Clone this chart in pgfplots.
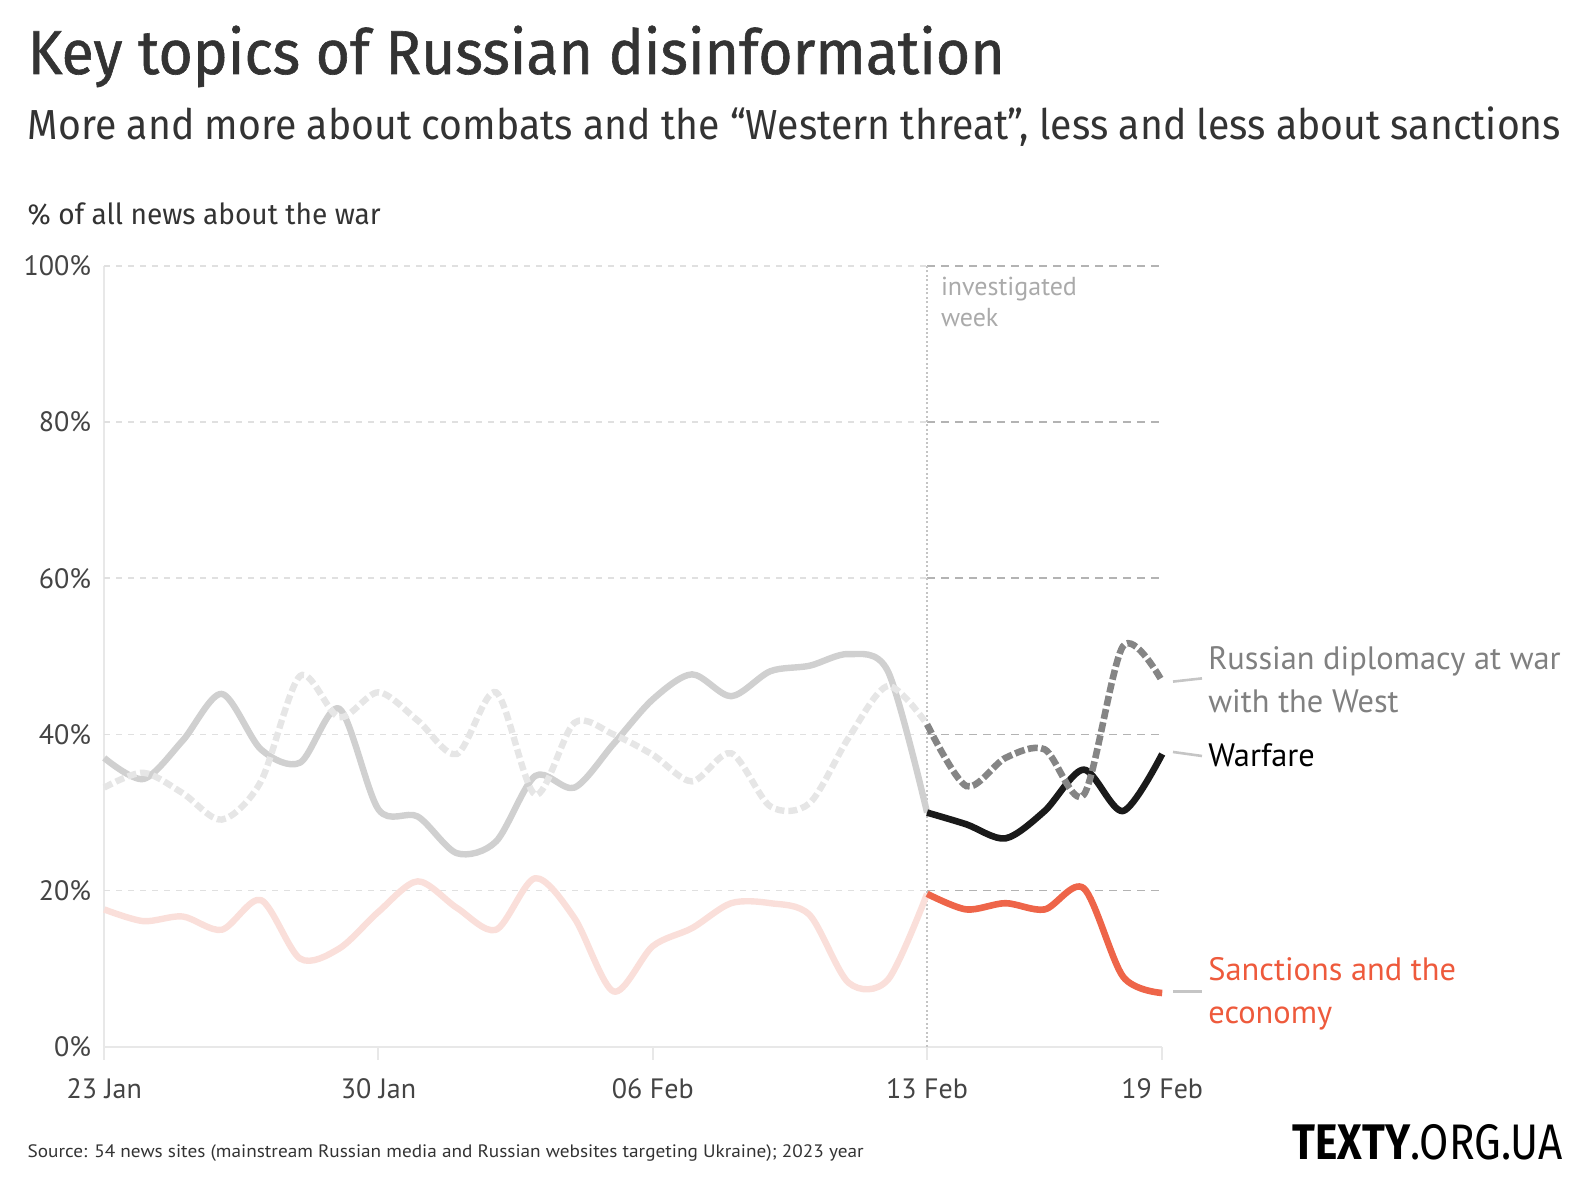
\documentclass[border=0pt]{standalone}
\usepackage{fontspec}
\setmainfont{PT Sans}
\newfontfamily\firafont{Fira Sans}
\newfontfamily\titlefont{Fira Sans}[FakeBold=1]
\usepackage{pgfplots}
\pgfplotsset{compat=1.18}
\usepackage{graphicx}
\definecolor{warlight}{HTML}{D0D0D0}
\definecolor{diplight}{HTML}{E6E6E6}
\definecolor{sanclight}{HTML}{FADFDA}
\definecolor{wardark}{HTML}{1A1A1A}
\definecolor{dipdark}{HTML}{858585}
\definecolor{sancdark}{HTML}{EE6549}
\definecolor{sanctext}{HTML}{EE5A3C}
\definecolor{diptext}{HTML}{808080}
\definecolor{gridlight}{HTML}{E0E0E0}
\definecolor{griddark}{HTML}{B3B3B3}
\definecolor{axisgray}{HTML}{E8E8E8}
\definecolor{c333}{HTML}{333333}
\definecolor{c444}{HTML}{444444}
\definecolor{invgray}{HTML}{AAAAAA}
\definecolor{conngray}{HTML}{C5C5C5}
\begin{document}
\begin{tikzpicture}
\path[use as bounding box] (0,0) rectangle (793pt,594pt);
% titles
\node[anchor=base west, inner sep=0, text=c333] at (13.65pt,557pt)
  {\resizebox{488.5pt}{\height}{\titlefont\fontsize{31}{31}\selectfont Key topics of Russian disinformation}};
\node[anchor=base west, inner sep=0, text=c333] at (13.65pt,524pt)
  {\resizebox{766.7pt}{\height}{\firafont\fontsize{21}{21}\selectfont More and more about combats and the “Western threat”, less and less about sanctions}};
\node[anchor=base west, inner sep=0, text=c333] at (13.65pt,481.5pt)
  {\resizebox{176.5pt}{\height}{\firafont\fontsize{14.5}{14.5}\selectfont \% of all news about the war}};
\begin{axis}[
  at={(52.1pt,70.55pt)}, anchor=south west, scale only axis,
  width=529pt, height=390.5pt,
  xmin=0, xmax=27, ymin=0, ymax=100,
  axis x line*=bottom, axis y line*=left,
  axis line style={-, draw=axisgray, line width=1pt},
  every outer x axis line/.append style={-},
  every outer y axis line/.append style={-},
  xtick={0,7,14,21,27}, xticklabels={23 Jan,30 Jan,06 Feb,13 Feb,19 Feb},
  ytick={0,20,40,60,80,100}, yticklabels={0\%,20\%,40\%,60\%,80\%,100\%},
  tick align=outside, major tick length=6.5pt,
  x tick style={draw=axisgray, line width=1pt},
  y tick style={draw=none},
  ticklabel style={font=\fontsize{14}{16}\selectfont, text=c444},
  xticklabel style={yshift=-6pt},
  yticklabel style={xshift=3.5pt},
  clip=false, no markers,
]
% grid
\draw[gridlight, line width=0.8pt, dash pattern=on 3pt off 3pt] (axis cs:0,20) -- (axis cs:21,20);
\draw[gridlight, line width=0.8pt, dash pattern=on 3pt off 3pt] (axis cs:0,40) -- (axis cs:21,40);
\draw[gridlight, line width=0.8pt, dash pattern=on 3pt off 3pt] (axis cs:0,60) -- (axis cs:21,60);
\draw[gridlight, line width=0.8pt, dash pattern=on 3pt off 3pt] (axis cs:0,80) -- (axis cs:21,80);
\draw[gridlight, line width=0.8pt, dash pattern=on 3pt off 3pt] (axis cs:0,100) -- (axis cs:21,100);
\draw[griddark, line width=0.8pt, dash pattern=on 4pt off 3pt] (axis cs:21,20) -- (axis cs:27,20);
\draw[griddark, line width=0.8pt, dash pattern=on 4pt off 3pt] (axis cs:21,40) -- (axis cs:27,40);
\draw[griddark, line width=0.8pt, dash pattern=on 4pt off 3pt] (axis cs:21,60) -- (axis cs:27,60);
\draw[griddark, line width=0.8pt, dash pattern=on 4pt off 3pt] (axis cs:21,80) -- (axis cs:27,80);
\draw[griddark, line width=0.8pt, dash pattern=on 4pt off 3pt] (axis cs:21,100) -- (axis cs:27,100);
\draw[invgray!70, line width=0.8pt, dash pattern=on 1pt off 1.2pt] (axis cs:21,0) -- (axis cs:21,100);
% history
\addplot[smooth, tension=0.5, color=sanclight, line width=3.2pt, line join=round] coordinates {
(0,17.6) (1,16.1) (2,16.7) (3,15.0) (4,18.8) (5,11.3) (6,12.6) (7,17.3) (8,21.2) (9,17.8) (10,15.0)
(11,21.6) (12,16.5) (13,7.1) (14,12.9) (15,15.2) (16,18.4) (17,18.4) (18,16.9) (19,8.2) (20,8.6) (21,19.6)};
\addplot[smooth, tension=0.5, color=warlight, line width=3.2pt, line join=round] coordinates {
(0,37.0) (1,34.3) (2,39.2) (3,45.2) (4,38.1) (5,36.4) (6,43.3) (7,30.4) (8,29.5) (9,24.8) (10,26.3)
(11,34.7) (12,33.2) (13,38.8) (14,44.5) (15,47.7) (16,44.9) (17,48.1) (18,48.8) (19,50.3) (20,48.1) (21,30.0)};
\addplot[smooth, tension=0.5, color=diplight, line width=3.2pt, dash pattern=on 4.5pt off 2pt] coordinates {
(0,33.2) (1,35.1) (2,32.5) (3,29.1) (4,34.0) (5,47.5) (6,42.2) (7,45.4) (8,41.8) (9,37.5) (10,45.4)
(11,32.3) (12,41.5) (13,40.0) (14,37.4) (15,34.0) (16,37.6) (17,30.8) (18,31.2) (19,39.6) (20,46.2) (21,41.3)};
% investigated week
\addplot[smooth, tension=0.5, color=sancdark, line width=3.3pt, line join=round] coordinates {
(21,19.6) (22,17.6) (23,18.4) (24,17.6) (25,20.3) (26,9.0) (27,6.9)};
\addplot[smooth, tension=0.5, color=wardark, line width=3.3pt, line join=round] coordinates {
(21,30.0) (22,28.5) (23,26.7) (24,30.2) (25,35.5) (26,30.2) (27,37.5)};
\addplot[smooth, tension=0.5, color=dipdark, line width=3.3pt, dash pattern=on 5pt off 1.7pt] coordinates {
(21,41.3) (22,33.4) (23,37.0) (24,38.1) (25,32.3) (26,51.3) (27,46.8)};
\end{axis}
% annotations
\node[anchor=base west, inner sep=0, text=invgray, font=\fontsize{13}{13}\selectfont] at (470.3pt,446pt) {investigated};
\node[anchor=base west, inner sep=0, text=invgray, font=\fontsize{13}{13}\selectfont] at (470.3pt,430.5pt) {week};
\draw[conngray, line width=1.3pt] (586.5pt,253.2pt) -- (601pt,254.8pt);
\draw[conngray, line width=1.3pt] (586.5pt,218pt) -- (601pt,216pt);
\draw[conngray, line width=1.3pt] (586.5pt,98.3pt) -- (601pt,98.3pt);
\node[anchor=base west, inner sep=0, text=diptext, font=\fontsize{16.2}{16.2}\selectfont] at (604pt,259pt) {Russian diplomacy at war};
\node[anchor=base west, inner sep=0, text=diptext, font=\fontsize{16.2}{16.2}\selectfont] at (604pt,237.5pt) {with the West};
\node[anchor=base west, inner sep=0, text=black, font=\fontsize{16.2}{16.2}\selectfont] at (604pt,210.5pt) {Warfare};
\node[anchor=base west, inner sep=0, text=sanctext, font=\fontsize{16.2}{16.2}\selectfont] at (604pt,103.5pt) {Sanctions and the};
\node[anchor=base west, inner sep=0, text=sanctext, font=\fontsize{16.2}{16.2}\selectfont] at (604pt,82pt) {economy};
% footer
\node[anchor=base west, inner sep=0, text=c333] at (13.65pt,15pt)
  {\resizebox{418pt}{\height}{\fontsize{9}{9}\selectfont Source: 54 news sites (mainstream Russian media and Russian websites targeting Ukraine); 2023 year}};
\node[anchor=base east, inner sep=0, text=black] at (781.5pt,14pt)
  {\resizebox{135pt}{\height}{\firafont\fontsize{25}{25}\selectfont{\bfseries TEXTY}.ORG.UA}};
\end{tikzpicture}
\end{document}
